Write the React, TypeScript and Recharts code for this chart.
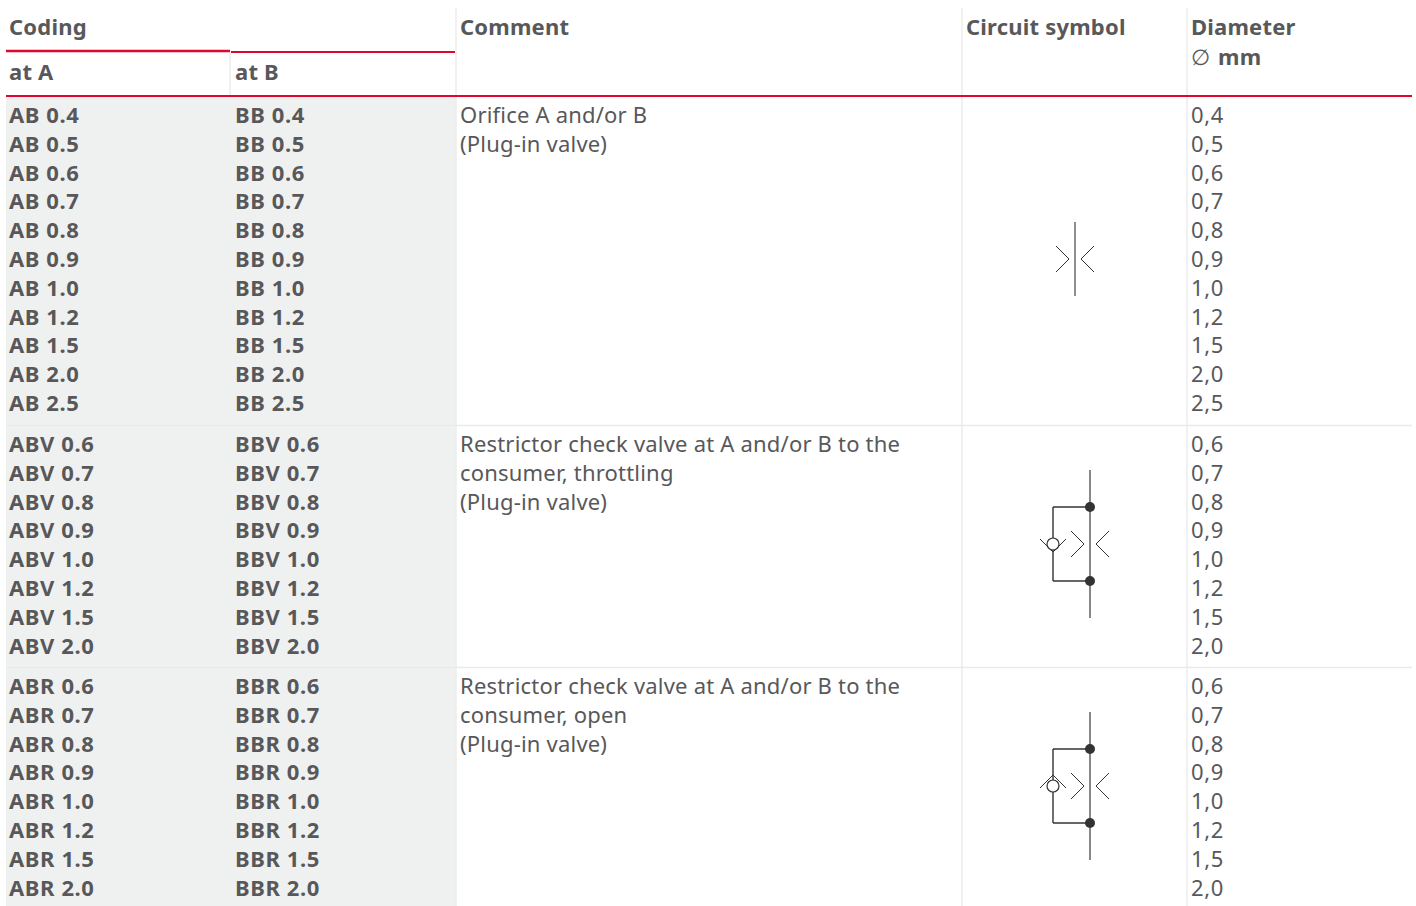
import React from 'react';
import { ReferenceArea, ReferenceDot, ReferenceLine, Scatter, ScatterChart, XAxis, YAxis } from 'recharts';

const orificeSizes = ['0.4', '0.5', '0.6', '0.7', '0.8', '0.9', '1.0', '1.2', '1.5', '2.0', '2.5'];
const restrictorSizes = ['0.6', '0.7', '0.8', '0.9', '1.0', '1.2', '1.5', '2.0'];
const prefixesA = ['AB', 'ABV', 'ABR'];
const prefixesB = ['BB', 'BBV', 'BBR'];
const groupSizes = [orificeSizes, restrictorSizes, restrictorSizes];
const comments = [
    ['Orifice A and/or B', '(Plug-in valve)'],
    ['Restrictor check valve at A and/or B to the', 'consumer, throttling', '(Plug-in valve)'],
    ['Restrictor check valve at A and/or B to the', 'consumer, open', '(Plug-in valve)'],
];

const WIDTH = 1416;
const HEIGHT = 906;
const TEXT = '#58585a';
const RED = '#e2062f';
const RULE = '#ececec';
const FONT = '"Noto Sans", sans-serif';

const COL_A = 9;
const COL_B = 235;
const COL_COMMENT = 460;
const COL_DIAMETER = 1191;
const GROUP_TOP = [115, 444, 686];
const ROW_PITCH = 28.8;

type Cell = { x: number; y: number; label: string };

const codeCells: Cell[] = [];
const commentCells: Cell[] = [];
const diameterCells: Cell[] = [];

groupSizes.forEach((sizes, g) => {
    sizes.forEach((size, i) => {
        const y = GROUP_TOP[g] + i * ROW_PITCH;
        codeCells.push({ x: COL_A, y, label: `${prefixesA[g]} ${size}` });
        codeCells.push({ x: COL_B, y, label: `${prefixesB[g]} ${size}` });
        diameterCells.push({ x: COL_DIAMETER, y, label: size.replace('.', ',') });
    });
    comments[g].forEach((line, i) => {
        commentCells.push({ x: COL_COMMENT, y: GROUP_TOP[g] + i * ROW_PITCH, label: line });
    });
});

const headerCells: Cell[] = [
    { x: COL_A, y: 27, label: 'Coding' },
    { x: COL_COMMENT, y: 27, label: 'Comment' },
    { x: 966, y: 27, label: 'Circuit symbol' },
    { x: COL_DIAMETER, y: 27, label: 'Diameter' },
    { x: 1218, y: 57, label: 'mm' },
    { x: COL_A, y: 72, label: 'at A' },
    { x: COL_B, y: 72, label: 'at B' },
];
const diameterSign: Cell[] = [{ x: COL_DIAMETER, y: 57, label: '\u2205' }];

const textShape = (weight: number, size: number, spacing: number) => (props: any) => {
    const { cx, cy, payload } = props;
    return (
        <text
            x={cx}
            y={cy}
            dy="0.36em"
            fill={TEXT}
            fontFamily={FONT}
            fontWeight={weight}
            fontSize={size}
            letterSpacing={spacing}
        >
            {payload.label}
        </text>
    );
};

type Pt = [number, number];

const seg = (a: Pt, b: Pt, key: string, width = 1.2, color = '#333') => (
    <ReferenceLine
        key={key}
        segment={[
            { x: a[0], y: a[1] },
            { x: b[0], y: b[1] },
        ]}
        stroke={color}
        strokeWidth={width}
    />
);

const chevrons = (cx: number, cy: number, key: string) => [
    seg([cx - 19, cy - 13], [cx - 6, cy], `${key}-l1`, 1),
    seg([cx - 6, cy], [cx - 19, cy + 13], `${key}-l2`, 1),
    seg([cx + 19, cy - 13], [cx + 6, cy], `${key}-r1`, 1),
    seg([cx + 6, cy], [cx + 19, cy + 13], `${key}-r2`, 1),
];

// restrictor symbol, cy is the middle of the two junctions
const restrictor = (cy: number, open: boolean, key: string) => {
    const cx = 1090;
    const bx = 1053;
    const ball = open ? cy + 40 - 40 + 0 : cy;
    const vy = open ? -11 : 8;
    const wing = open ? 2 : -5;
    return [
        seg([cx, cy - 74], [cx, cy + 74], `${key}-v`, 1.4, '#555'),
        seg([bx, cy - 37], [cx, cy - 37], `${key}-t`, 1.4),
        seg([bx, cy + 37], [cx, cy + 37], `${key}-b`, 1.4),
        seg([bx, cy - 37], [bx, cy + 37], `${key}-s`, 1.4),
        ...chevrons(cx, cy, key),
        seg([bx - 13, ball + wing], [bx, ball + vy], `${key}-c1`, 1),
        seg([bx, ball + vy], [bx + 13, ball + wing], `${key}-c2`, 1),
        <ReferenceDot key={`${key}-ball`} x={bx} y={ball} r={6} fill="#fff" stroke="#333" strokeWidth={1.2} />,
        <ReferenceDot key={`${key}-d1`} x={cx} y={cy - 37} r={5} fill="#333" stroke="none" />,
        <ReferenceDot key={`${key}-d2`} x={cx} y={cy + 37} r={5} fill="#333" stroke="none" />,
    ];
};

export default function App() {
    return (
        <div style={{ position: 'absolute', left: 0, top: 0 }}>
            <ScatterChart width={WIDTH} height={HEIGHT} margin={{ top: 0, right: 0, bottom: 0, left: 0 }}>
                <XAxis type="number" dataKey="x" domain={[0, WIDTH]} hide />
                <YAxis type="number" dataKey="y" domain={[0, HEIGHT]} reversed hide />

                <ReferenceArea x1={6} x2={456} y1={97} y2={HEIGHT} fill="#eff1f0" fillOpacity={1} stroke="none" />

                {[230, 456, 962, 1187].map((x) => (
                    <ReferenceLine
                        key={x}
                        segment={[
                            { x, y: x === 230 ? 52 : 8 },
                            { x, y: x === 230 ? 97 : HEIGHT },
                        ]}
                        stroke={RULE}
                        strokeWidth={1.5}
                    />
                ))}
                {[425.5, 667.5].map((y) => seg([6, y], [1412, y], `sep-${y}`, 1.5, '#e9ebea'))}

                {seg([6, 51], [230, 51], 'red-a', 2.5, RED)}
                {seg([231, 52], [455, 52], 'red-b', 2, RED)}
                {seg([6, 96], [1412, 96], 'red-c', 2.2, RED)}

                {seg([1075, 222], [1075, 296], 'orifice-v', 1.2, '#444')}
                {chevrons(1075, 259, 'orifice')}
                {restrictor(544, false, 'throttle')}
                {restrictor(786, true, 'open')}

                <Scatter data={headerCells} shape={textShape(700, 22, 0.2)} isAnimationActive={false} />
                <Scatter data={diameterSign} shape={textShape(400, 22, 0)} isAnimationActive={false} />
                <Scatter data={codeCells} shape={textShape(700, 22, 0.6)} isAnimationActive={false} />
                <Scatter data={commentCells} shape={textShape(400, 22, 0.2)} isAnimationActive={false} />
                <Scatter data={diameterCells} shape={textShape(400, 22, 0.6)} isAnimationActive={false} />
            </ScatterChart>
        </div>
    );
}
